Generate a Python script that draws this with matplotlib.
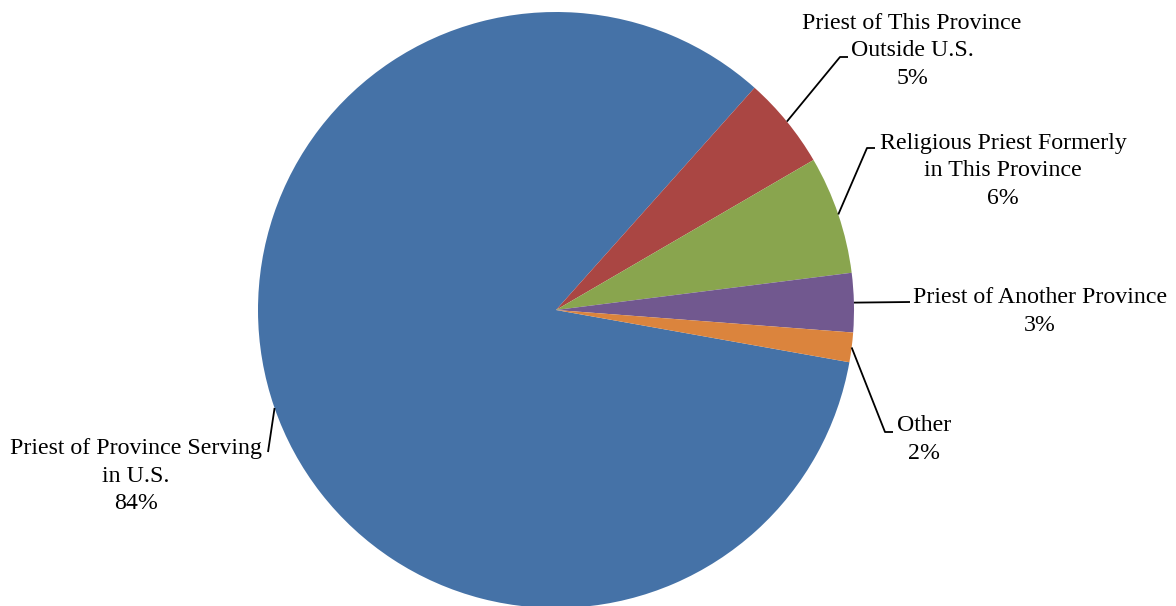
import numpy as np
import matplotlib
matplotlib.use("Agg")
import matplotlib.pyplot as plt

# Data
categories = ["Priest of Province Serving\nin U.S.",
              "Priest of This Province\nOutside U.S.",
              "Religious Priest Formerly\nin This Province",
              "Priest of Another Province",
              "Other"]
values = [83.8, 5.0, 6.4, 3.2, 1.6]
colors = ["#4572A7", "#AA4643", "#89A54E", "#71588F", "#DB843D"]

W, H = 1176, 606
fig = plt.figure(figsize=(W / 100, H / 100), dpi=100)
ax = fig.add_axes([0, 0, 1, 1])

cx, cy, R = 556, H - 310, 298
wedges, _ = ax.pie(values, colors=colors, startangle=-10.1, counterclock=False,
                   center=(cx, cy), radius=R, frame=True,
                   wedgeprops=dict(linewidth=0))
ax.set_xlim(0, W)
ax.set_ylim(0, H)
ax.set_aspect("equal")
ax.axis("off")

# label layout: (text center x, text center y from top), elbow points (from top)
text_pos = [(136, 476), (912, 51), (1003, 171), (1040, 311.5), (924, 439.5)]
elbows = [[(268, 452)],
          [(840, 57), (848, 57)],
          [(867, 148), (875, 148)],
          [(910, 302)],
          [(885, 432), (893, 432)]]
attach_angle = [199.2, None, None, None, None]

font = dict(family="Liberation Serif", size=17.2)
for i, w in enumerate(wedges):
    pct = f"{values[i]:.0f}%"
    tx, ty = text_pos[i]
    ax.text(tx, H - ty, categories[i] + "\n" + pct, ha="center", va="center",
            linespacing=1.38, color="black", **font)
    ang = attach_angle[i] if attach_angle[i] is not None else 0.5 * (w.theta1 + w.theta2)
    a = np.deg2rad(ang)
    px, py = cx + R * np.cos(a), cy + R * np.sin(a)
    xs = [px] + [e[0] for e in elbows[i]]
    ys = [py] + [H - e[1] for e in elbows[i]]
    ax.plot(xs, ys, color="black", linewidth=1.3, solid_capstyle="butt")

fig.savefig("out.png", dpi=100)
